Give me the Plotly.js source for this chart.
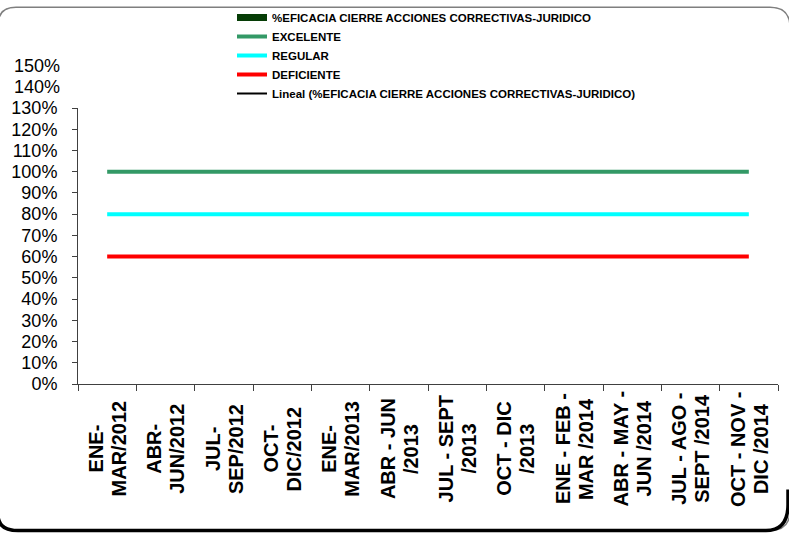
<!DOCTYPE html>
<html>
<head>
<meta charset="utf-8">
<script src="https://cdn.plot.ly/plotly-3.0.1.min.js"></script>
<style>html,body{margin:0;padding:0;background:#fff;}#chart{width:789px;height:533px;}</style>
</head>
<body>
<div id="chart"></div>
<script>
// ---- data ----
const categories = [
  'ENE-<br>MAR/2012', 'ABR-<br>JUN/2012', 'JUL-<br>SEP/2012', 'OCT-<br>DIC/2012',
  'ENE-<br>MAR/2013', 'ABR - JUN<br>/2013', 'JUL - SEPT<br>/2013', 'OCT - DIC<br>/2013',
  'ENE - FEB -<br>MAR /2014', 'ABR - MAY -<br>JUN /2014', 'JUL - AGO -<br>SEPT /2014', 'OCT - NOV -<br>DIC /2014'
];
const eficacia   = [null, null, null, null, null, null, null, null, null, null, null, null];
const excelente  = [1.0, 1.0, 1.0, 1.0, 1.0, 1.0, 1.0, 1.0, 1.0, 1.0, 1.0, 1.0];
const regular    = [0.8, 0.8, 0.8, 0.8, 0.8, 0.8, 0.8, 0.8, 0.8, 0.8, 0.8, 0.8];
const deficiente = [0.6, 0.6, 0.6, 0.6, 0.6, 0.6, 0.6, 0.6, 0.6, 0.6, 0.6, 0.6];
const lineal     = [null, null, null, null, null, null, null, null, null, null, null, null];
const seriesNames = [
  '%EFICACIA CIERRE ACCIONES CORRECTIVAS-JURIDICO',
  'EXCELENTE', 'REGULAR', 'DEFICIENTE',
  'Lineal (%EFICACIA CIERRE ACCIONES CORRECTIVAS-JURIDICO)'
];
const yMax = 1.3;
const extraYLabels = [1.4, 1.5];

// ---- chart ----
const FONT = 'Arial, "Liberation Sans", sans-serif';
const W = 789, H = 533, ML = 78, MR = 11, MT = 107, MB = 149;
const PW = W - ML - MR, PH = H - MT - MB;
const X = px => (px - ML) / PW;
const Y = py => (H - MB - py) / PH;

const traces = [
  {x: categories, y: eficacia, name: seriesNames[0], mode: 'lines', line: {color: '#063d06', width: 7}},
  {x: categories, y: excelente, name: seriesNames[1], mode: 'lines', line: {color: '#339966', width: 4}},
  {x: categories, y: regular, name: seriesNames[2], mode: 'lines', line: {color: '#00ffff', width: 4}},
  {x: categories, y: deficiente, name: seriesNames[3], mode: 'lines', line: {color: '#ff0000', width: 4}},
  {x: categories, y: lineal, name: seriesNames[4], mode: 'lines', line: {color: '#000000', width: 2}}
];

const annotations = [];
categories.forEach(c => {
  const lines = c.split('<br>');
  lines.forEach((ln, i) => annotations.push({
    x: c, xref: 'x', y: Y(449), yref: 'paper',
    xshift: (i - (lines.length - 1) / 2) * 23,
    text: ln, showarrow: false, textangle: -90,
    xanchor: 'center', yanchor: 'middle',
    font: {family: FONT, size: 20, color: '#000', weight: 'bold'}
  }));
});
extraYLabels.forEach(v => annotations.push({
  x: X(62), xref: 'paper', y: v / yMax, yref: 'paper',
  text: Math.round(v * 100) + '%', showarrow: false,
  xanchor: 'right', yanchor: 'middle',
  font: {family: FONT, size: 18, color: '#000'}
}));

const border = 'M' + X(-2) + ',' + Y(24) + ' Q' + X(-2) + ',' + Y(6) + ' ' + X(16) + ',' + Y(6) +
  ' L' + X(770) + ',' + Y(6) + ' Q' + X(790) + ',' + Y(6) + ' ' + X(790) + ',' + Y(26) +
  ' L' + X(790) + ',' + Y(511) + ' Q' + X(790) + ',' + Y(531) + ' ' + X(770) + ',' + Y(531) +
  ' L' + X(18) + ',' + Y(531) + ' Q' + X(-2) + ',' + Y(531) + ' ' + X(-2) + ',' + Y(511) + ' Z';
const shadow = 'M' + X(-2) + ',' + Y(515) + ' Q' + X(-2) + ',' + Y(531) + ' ' + X(18) + ',' + Y(531) +
  ' L' + X(766) + ',' + Y(531) + ' Q' + X(788) + ',' + Y(531) + ' ' + X(788) + ',' + Y(505) +
  ' L' + X(788) + ',' + Y(490);

const layout = {
  width: W, height: H,
  margin: {l: ML, r: MR, t: MT, b: MB, pad: 0},
  paper_bgcolor: '#ffffff', plot_bgcolor: '#ffffff',
  font: {family: FONT, color: '#000'},
  showlegend: true,
  legend: {
    x: X(232), y: 1 - 3 / H, yref: 'container', xanchor: 'left', yanchor: 'top',
    bgcolor: 'rgba(0,0,0,0)', borderwidth: 0, tracegroupgap: 0,
    font: {family: FONT, size: 11.5, color: '#000', weight: 'bold'}
  },
  xaxis: {
    type: 'category', range: [-0.5, 11.5], fixedrange: true,
    showline: true, linecolor: '#404040', linewidth: 1,
    ticks: 'outside', ticklen: 6, tickcolor: '#404040', tickson: 'boundaries',
    showgrid: false, zeroline: false, showticklabels: false
  },
  yaxis: {
    range: [0, yMax], dtick: 0.1, tick0: 0, tickformat: '.0%', fixedrange: true,
    showline: true, linecolor: '#404040', linewidth: 1,
    ticks: 'outside', ticklen: 5, tickcolor: '#404040', ticklabelstandoff: 11,
    showgrid: false, zeroline: false,
    tickfont: {family: FONT, size: 18, color: '#000'}
  },
  annotations: annotations,
  shapes: [
    {type: 'path', xref: 'paper', yref: 'paper', path: border, line: {color: '#7f7f7f', width: 1.5}},
    {type: 'path', xref: 'paper', yref: 'paper', path: shadow, line: {color: '#000000', width: 3.5}}
  ]
};

Plotly.newPlot('chart', traces, layout, {displayModeBar: false, staticPlot: true});
</script>
</body>
</html>
